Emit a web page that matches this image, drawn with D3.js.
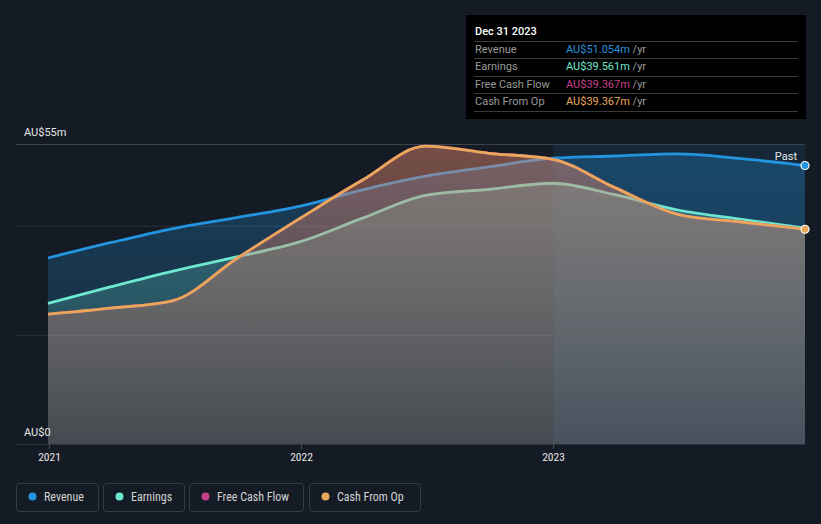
<!DOCTYPE html>
<html><head><meta charset="utf-8">
<script src="https://cdn.jsdelivr.net/npm/d3@7"></script>
<style>
html,body{margin:0;padding:0;background:#151b24;}
svg{display:block;}
text{font-family:Roboto,"Noto Sans",sans-serif;}
.cond{font-family:"Liberation Sans Narrow","Roboto Condensed","DejaVu Sans",Roboto,sans-serif;font-stretch:condensed;}
</style></head>
<body>
<svg id="c" width="821" height="524"></svg>
<script>
const dates = ["2020-12-31","2021-03-31","2021-06-30","2021-09-30","2021-12-31","2022-03-31","2022-06-30","2022-09-30","2022-12-31","2023-03-31","2023-06-30","2023-09-30","2023-12-31"];
const revenue  = [34.1, 36.9, 39.5, 41.5, 43.6, 46.6, 49.1, 50.8, 52.4, 52.8, 53.2, 52.3, 51.054];
const earnings = [25.8, 28.8, 31.7, 34.3, 37.1, 41.4, 45.6, 46.7, 47.8, 45.7, 42.9, 41.2, 39.561];
const freeCashFlow = [23.8, 24.9, 26.3, 34.0, 41.4, 48.4, 54.6, 53.3, 52.2, 47.0, 42.1, 40.7, 39.367];
const cashFromOp   = [23.8, 24.9, 26.3, 34.0, 41.4, 48.4, 54.6, 53.3, 52.2, 47.0, 42.1, 40.7, 39.367];
const yTickValues = [0, 20, 40, 55];
const yTickLabels = ["AU$0", "", "", "AU$55m"];
const xTickYears = [2021, 2022, 2023];
const seriesNames = ["Revenue", "Earnings", "Free Cash Flow", "Cash From Op"];
const seriesColors = ["#2394df", "#6ee7d1", "#c5408a", "#e9a75c"];
const seriesValues = [revenue, earnings, freeCashFlow, cashFromOp];
const tooltipTitle = "Dec 31 2023";
const tooltipValues = ["AU$51.054m", "AU$39.561m", "AU$39.367m", "AU$39.367m"];

const parse = d3.timeParse("%Y-%m-%d");
const svg = d3.select("#c");
const x = d3.scaleTime().domain([parse(dates[0]), parse(dates[dates.length-1])]).range([48, 805]);
const y = d3.scaleLinear().domain([0, 55]).range([444, 144]);

svg.append("rect").attr("width",821).attr("height",524).attr("fill","#151b24");

const defs = svg.append("defs");
const opTop = [0.3, 0.3, 0.24, 0.32];
const opBot = [0.11, 0.11, 0.09, 0.12];
seriesColors.forEach((c,i)=>{
  const g = defs.append("linearGradient").attr("id","g"+i).attr("gradientUnits","userSpaceOnUse")
    .attr("x1",0).attr("x2",0).attr("y1",y(55)).attr("y2",y(0));
  g.append("stop").attr("offset","0").attr("stop-color",c).attr("stop-opacity",opTop[i]);
  g.append("stop").attr("offset","1").attr("stop-color",c).attr("stop-opacity",opBot[i]);
});

// highlight region (past year)
svg.append("rect").attr("x", x(parse("2023-01-01"))).attr("y", y(55))
  .attr("width", x(parse(dates[dates.length-1])) - x(parse("2023-01-01"))).attr("height", y(0)-y(55))
  .attr("fill","#2394df").attr("opacity",0.1);

// gridlines
svg.append("g").selectAll("line").data(yTickValues).join("line")
  .attr("x1",16).attr("x2",805).attr("y1",d=>y(d)+0.5).attr("y2",d=>y(d)+0.5)
  .attr("stroke",(d,i)=> d===55 ? "#3d434c" : "#2a313b").attr("stroke-width",1);

const pts = v => v.map((val,i)=>({d:parse(dates[i]), v:val}));
const area = d3.area().x(p=>x(p.d)).y0(y(0)).y1(p=>y(p.v)).curve(d3.curveMonotoneX);
const line = d3.line().x(p=>x(p.d)).y(p=>y(p.v)).curve(d3.curveMonotoneX);

seriesValues.forEach((vals,i)=>{
  svg.append("path").datum(pts(vals)).attr("d",area).attr("fill","url(#g"+i+")");
  svg.append("path").datum(pts(vals)).attr("d",line).attr("fill","none")
    .attr("stroke",seriesColors[i]).attr("stroke-width",2.8);
});

// x axis ticks
const xt = svg.append("g");
xTickYears.forEach(yr=>{
  const xx = Math.round(x(new Date(yr,0,1)))+0.5;
  xt.append("line").attr("x1",xx).attr("x2",xx).attr("y1",444).attr("y2",449).attr("stroke","#4a5059");
  xt.append("text").attr("class","cond").attr("x",xx).attr("y",461).attr("text-anchor","middle")
    .attr("font-size",11.5).attr("fill","#e6e6e6").text(yr);
});

// y labels
yTickValues.forEach((v,i)=>{
  if(!yTickLabels[i]) return;
  svg.append("text").attr("x",24).attr("y",y(v)-8).attr("font-size",11).attr("fill","#e6e6e6").text(yTickLabels[i]);
});

// Past label and end markers
svg.append("text").attr("x",797).attr("y",160).attr("text-anchor","end").attr("font-size",11).attr("fill","#e6e6e6").text("Past");
const last = dates.length-1;
[[revenue,0],[cashFromOp,3]].forEach(([vals,i])=>{
  svg.append("circle").attr("cx",x(parse(dates[last]))).attr("cy",y(vals[last])).attr("r",4)
    .attr("fill",seriesColors[i]).attr("stroke","#fff").attr("stroke-width",1.2);
});

// tooltip
const tt = svg.append("g");
tt.append("rect").attr("x",466).attr("y",15).attr("width",340).attr("height",104).attr("fill","#000");
tt.append("text").attr("x",475).attr("y",35).attr("font-size",11).attr("font-weight",500).attr("fill","#fff").text(tooltipTitle);
[41,58,76,93,111].forEach(yy=>{
  tt.append("line").attr("x1",474).attr("x2",798).attr("y1",yy+0.5).attr("y2",yy+0.5).attr("stroke","#3a3a3a");
});
seriesNames.forEach((n,i)=>{
  const yy = 53 + i*17.4;
  tt.append("text").attr("x",475).attr("y",yy).attr("font-size",11).attr("fill","#9a9a9a").text(n);
  const t = tt.append("text").attr("x",566).attr("y",yy).attr("font-size",11);
  t.append("tspan").attr("fill",seriesColors[i]).text(tooltipValues[i]);
  t.append("tspan").attr("fill","#9a9a9a").text(" /yr");
});

// legend
const legendX = [16, 103, 189, 309];
const legendW = [82, 81, 114, 111];
seriesNames.forEach((n,i)=>{
  const g = svg.append("g").attr("transform",`translate(${legendX[i]},483)`);
  g.append("rect").attr("x",0.5).attr("y",0.5).attr("width",legendW[i]).attr("height",28).attr("rx",3)
    .attr("fill","none").attr("stroke","#363c46");
  g.append("circle").attr("cx",16.5).attr("cy",13.5).attr("r",4).attr("fill",seriesColors[i]);
  g.append("text").attr("class","cond").attr("x",28).attr("y",17.5).attr("font-size",12).attr("fill","#d2d2d2").text(n);
});
</script>
</body></html>
